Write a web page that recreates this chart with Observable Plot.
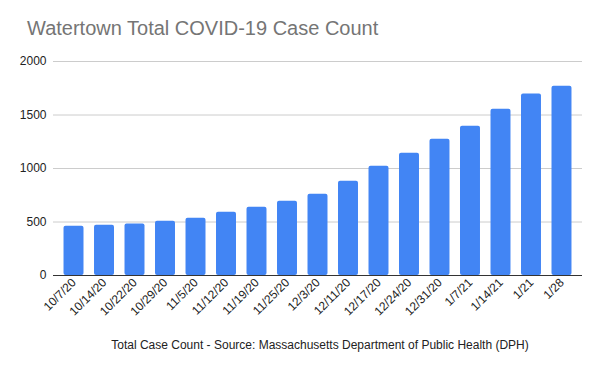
<!DOCTYPE html>
<html>
<head>
<meta charset="utf-8">
<script src="https://cdn.jsdelivr.net/npm/d3@7"></script>
<script src="https://cdn.jsdelivr.net/npm/@observablehq/plot@0.6"></script>
<style>
  html, body { margin: 0; padding: 0; background: #fff; }
  #wrap { position: relative; width: 600px; height: 371px; font-family: "Liberation Sans", Arial, sans-serif; }
  #title { position: absolute; left: 27px; top: 17px; font-size: 20px; color: #757575; white-space: nowrap; }
  #caption { position: absolute; left: 0; width: 640px; top: 338px; text-align: center; font-size: 12px; color: #222; white-space: nowrap; }
  #chart { position: absolute; left: 0; top: 0; }
</style>
</head>
<body>
<div id="wrap">
  <div id="chart"></div>
  <div id="title">Watertown Total COVID-19 Case Count</div>
  <div id="caption">Total Case Count - Source: Massachusetts Department of Public Health (DPH)</div>
</div>
<script>
const dates = ["10/7/20","10/14/20","10/22/20","10/29/20","11/5/20","11/12/20","11/19/20","11/25/20","12/3/20","12/11/20","12/17/20","12/24/20","12/31/20","1/7/21","1/14/21","1/21","1/28"];
const cases = [461, 470, 482, 507, 535, 592, 638, 694, 760, 881, 1021, 1143, 1274, 1395, 1554, 1697, 1769];
const yTicks = [0, 500, 1000, 1500, 2000];

const data = dates.map((d, i) => ({date: d, cases: cases[i]}));

const chart = Plot.plot({
  width: 600,
  height: 371,
  marginTop: 61,
  marginBottom: 96,
  marginLeft: 53,
  marginRight: 18,
  style: {fontFamily: "'Liberation Sans', Arial, sans-serif", fontSize: "12px", color: "#222", background: "transparent"},
  x: {domain: dates, padding: 0.345, round: false, label: null},
  y: {domain: [0, 2000], label: null},
  marks: [
    Plot.ruleY(yTicks.filter(t => t > 0), {stroke: "#cccccc", strokeWidth: 1}),
    Plot.barY(data, {x: "date", y: "cases", fill: "#4285f4", rx: 2}),
    Plot.ruleY([0], {stroke: "#333333", strokeWidth: 1}),
    Plot.axisY({ticks: yTicks, tickFormat: d => String(d), tickSize: 0, tickPadding: 7, fontSize: 12, label: null, fill: "#222"}),
    Plot.axisX({tickSize: 0, tickRotate: -45, tickPadding: 5, fontSize: 12, label: null, fill: "#222"})
  ]
});
document.getElementById("chart").appendChild(chart);
</script>
</body>
</html>
